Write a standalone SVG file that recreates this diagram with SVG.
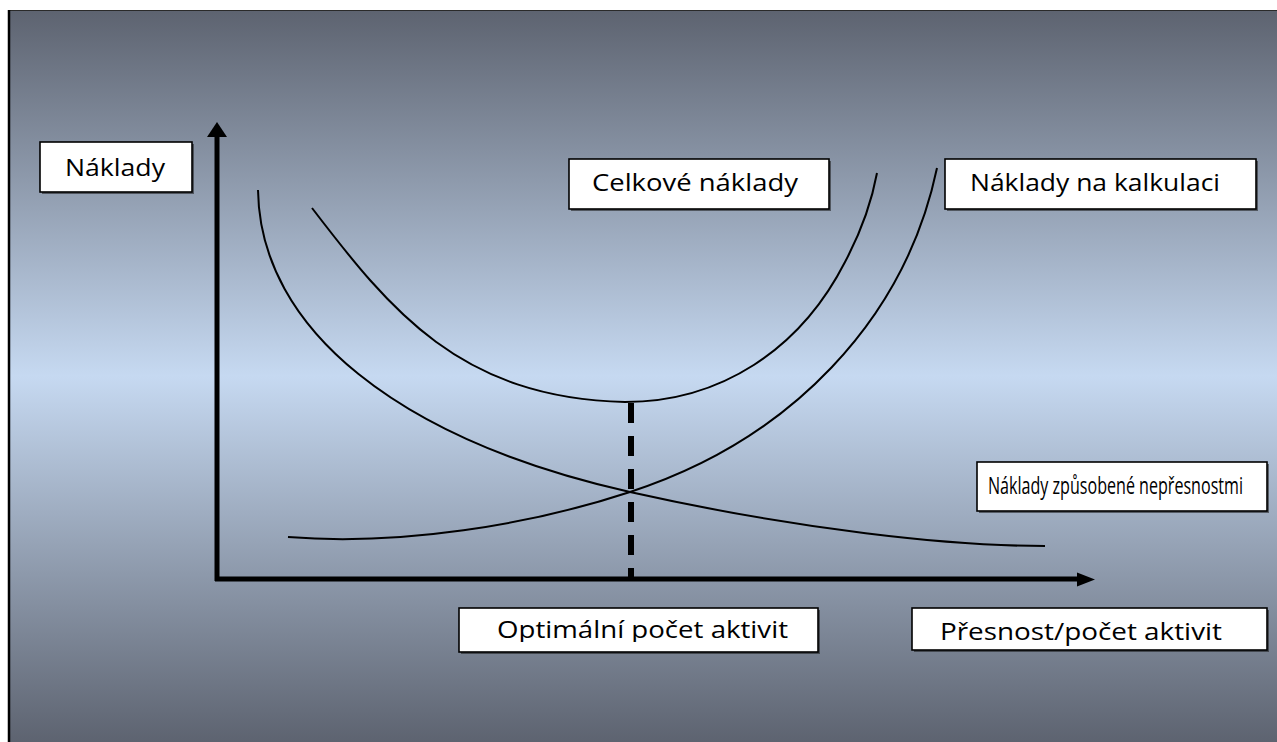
<svg xmlns="http://www.w3.org/2000/svg" width="1277" height="742" viewBox="0 0 1277 742">
  <defs>
    <linearGradient id="bg" x1="0" y1="10" x2="0" y2="742" gradientUnits="userSpaceOnUse">
      <stop offset="0" stop-color="#5d6370"/>
      <stop offset="0.5" stop-color="#c6d9f1"/>
      <stop offset="1" stop-color="#5d6370"/>
    </linearGradient>
    <clipPath id="clipOpt">
      <rect x="459" y="608" width="359" height="34"/>
    </clipPath>
  </defs>
  <style>
    .box { fill: #ffffff; stroke: #000000; stroke-width: 1.6; }
    .shadow { fill: #1a1a1a; opacity: 0.55; }
    .lbl { font-family: "Open Sans", "Noto Sans", "Liberation Sans", sans-serif; font-size: 24px; fill: #000000; }
    .narrow { font-family: "Liberation Sans Narrow", "Open Sans", "Liberation Sans", sans-serif; font-size: 23px; }
    .curve { fill: none; stroke: #000000; stroke-width: 2; }
    .axis { fill: none; stroke: #000000; stroke-width: 5; }
    .head { fill: #000000; }
  </style>

  <!-- page background and frame -->
  <rect x="0" y="0" width="1277" height="742" fill="#ffffff"/>
  <rect x="8" y="10" width="1269" height="732" fill="url(#bg)"/>
  <line x1="8" y1="10.5" x2="1277" y2="10.5" stroke="#2a2a2a" stroke-width="1"/>
  <line x1="9" y1="10" x2="9" y2="742" stroke="#000000" stroke-width="2.5"/>

  <!-- connectors: axes, curves and the optimum marker -->
  <g id="connectors">
    <line class="axis" x1="217" y1="581" x2="217" y2="135"/>
    <polygon class="head" points="217,122 207,137 227,137"/>
    <line class="axis" x1="215" y1="579" x2="1080" y2="579"/>
    <polygon class="head" points="1095,579.5 1077,572.5 1077,586.5"/>

    <!-- costs caused by inaccuracy (falling) -->
    <path class="curve" d="M258,190 C 260,330 400,440 630,492 C 800,530 950,546 1045,546"/>
    <!-- costing costs (rising) -->
    <path class="curve" d="M288,537 C 400,546 530,525 630,492 C 790,440 905,320 937,168"/>
    <!-- total costs (U-shaped) -->
    <path class="curve" d="M312,208 C 390,310 460,398 625,402 C 720,402 800,350 845,262 C 862,230 872,200 877,173"/>

    <line x1="631" y1="403" x2="631" y2="579" stroke="#000000" stroke-width="6" stroke-dasharray="20,13"/>
  </g>

  <!-- labels -->
  <g id="node-naklady">
    <rect class="shadow" x="42" y="144" width="152" height="50"/>
    <rect class="box" x="40" y="142" width="152" height="50"/>
    <text class="lbl" x="65" y="176" textLength="100" lengthAdjust="spacingAndGlyphs">Náklady</text>
  </g>

  <g id="node-celkove">
    <rect class="shadow" x="571" y="161" width="260" height="50"/>
    <rect class="box" x="569" y="159" width="260" height="50"/>
    <text class="lbl" x="592" y="191" textLength="206" lengthAdjust="spacingAndGlyphs">Celkové náklady</text>
  </g>

  <g id="node-kalkulace">
    <rect class="shadow" x="947" y="161" width="311" height="50"/>
    <rect class="box" x="945" y="159" width="311" height="50"/>
    <text class="lbl" x="970" y="191" textLength="250" lengthAdjust="spacingAndGlyphs">Náklady na kalkulaci</text>
  </g>

  <g id="node-nepresnosti">
    <rect class="shadow" x="979" y="464" width="290" height="49"/>
    <rect class="box" x="977" y="462" width="290" height="49"/>
    <text class="lbl narrow" x="988" y="494" textLength="255" lengthAdjust="spacingAndGlyphs">Náklady způsobené nepřesnostmi</text>
  </g>

  <g id="node-optimalni">
    <rect class="shadow" x="461" y="610" width="359" height="44"/>
    <rect class="box" x="459" y="608" width="359" height="44"/>
    <text class="lbl" x="497" y="638" textLength="291" lengthAdjust="spacingAndGlyphs" clip-path="url(#clipOpt)">Optimální počet aktivit</text>
  </g>

  <g id="node-presnost">
    <rect class="shadow" x="914" y="610" width="355" height="42"/>
    <rect class="box" x="912" y="608" width="355" height="42"/>
    <text class="lbl" x="940" y="640" textLength="282" lengthAdjust="spacingAndGlyphs">Přesnost/počet aktivit</text>
  </g>
</svg>
